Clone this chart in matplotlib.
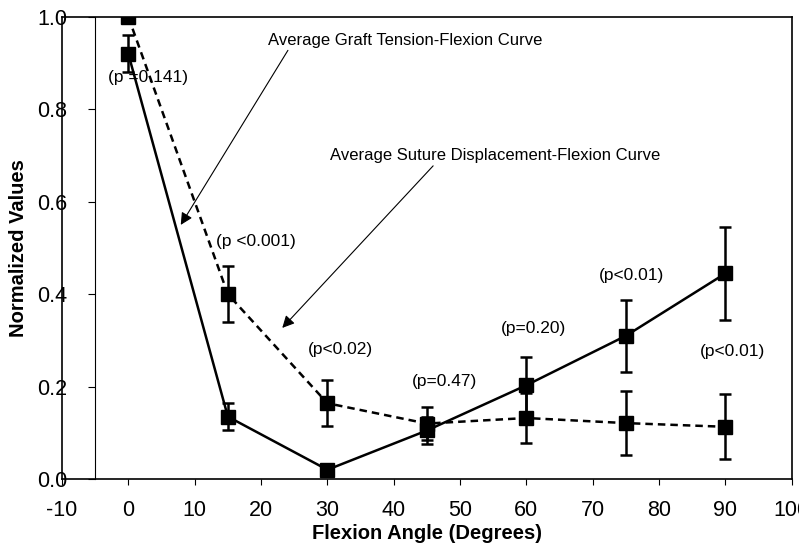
import matplotlib.pyplot as plt
from matplotlib.ticker import FormatStrFormatter

plt.rcParams['font.family'] = ['Liberation Sans', 'DejaVu Sans']
plt.rcParams['axes.unicode_minus'] = False

angles = [0, 15, 30, 45, 60, 75, 90]
tension = [0.92, 0.135, 0.02, 0.105, 0.203, 0.31, 0.445]
tension_err = [0.04, 0.03, 0.0, 0.03, 0.06, 0.078, 0.10]
displacement = [1.0, 0.40, 0.164, 0.12, 0.132, 0.121, 0.113]
displacement_err = [0.0, 0.06, 0.05, 0.035, 0.055, 0.07, 0.07]

p_labels = ["(p =0.141)", "(p <0.001)", "(p<0.02)", "(p=0.47)", "(p=0.20)", "(p<0.01)", "(p<0.01)"]
p_x = [3.0, 19.2, 32.0, 47.7, 61.0, 75.9, 91.0]
p_y = [0.87, 0.515, 0.281, 0.21, 0.325, 0.44, 0.275]

fig = plt.figure(figsize=(7.99, 5.47), dpi=100)
ax = fig.add_axes([0.0776, 0.1243, 0.9134, 0.8447])

ax.errorbar(angles, displacement, yerr=displacement_err, color='black', lw=1.8,
            ls=(0, (3, 2)), marker='s', ms=10, capsize=4.5, capthick=1.8,
            elinewidth=1.8, zorder=3)
ax.errorbar(angles, tension, yerr=tension_err, color='black', lw=1.8,
            marker='s', ms=10, capsize=4.5, capthick=1.8, elinewidth=1.8, zorder=3)

for txt, x, y in zip(p_labels, p_x, p_y):
    ax.text(x, y, txt, ha='center', va='center', fontsize=12.5)

ax.annotate("Average Graft Tension-Flexion Curve", xy=(7.9, 0.55), xytext=(21.0, 0.95),
            fontsize=12, va='center', ha='left',
            arrowprops=dict(arrowstyle='-|>', color='black', lw=0.8,
                            mutation_scale=18, shrinkA=0, shrinkB=0,
                            relpos=(0.08, 0.0)))
ax.annotate("Average Suture Displacement-Flexion Curve", xy=(23.2, 0.327), xytext=(30.4, 0.70),
            fontsize=12, va='center', ha='left',
            arrowprops=dict(arrowstyle='-|>', color='black', lw=0.8,
                            mutation_scale=18, shrinkA=0, shrinkB=0,
                            relpos=(0.32, 0.0)))

ax.set_xlim(-10, 100)
ax.set_ylim(0, 1.0)
ax.set_xticks(range(-10, 101, 10))
ax.set_yticks([0, 0.2, 0.4, 0.6, 0.8, 1.0])
ax.yaxis.set_major_formatter(FormatStrFormatter('%.1f'))

# y axis sits at x = -5, frame line at the left edge
ax.spines['left'].set_position(('data', -5))
ax.axvline(-10, color='black', lw=1.2, clip_on=False)
for s in ['top', 'right', 'bottom']:
    ax.spines[s].set_linewidth(1.2)
ax.spines['left'].set_linewidth(0.8)

ax.tick_params(axis='y', direction='out', length=5, pad=15, labelsize=15.5)
ax.tick_params(axis='x', direction='out', length=4, pad=11, labelsize=15.5)

ax.set_xlabel("Flexion Angle (Degrees)", fontsize=14.5, fontweight='bold', labelpad=2)
ax.set_ylabel("Normalized Values", fontsize=14.5, fontweight='bold')
ax.yaxis.set_label_coords(-0.046, 0.5)

fig.savefig("out.png", dpi=100)
